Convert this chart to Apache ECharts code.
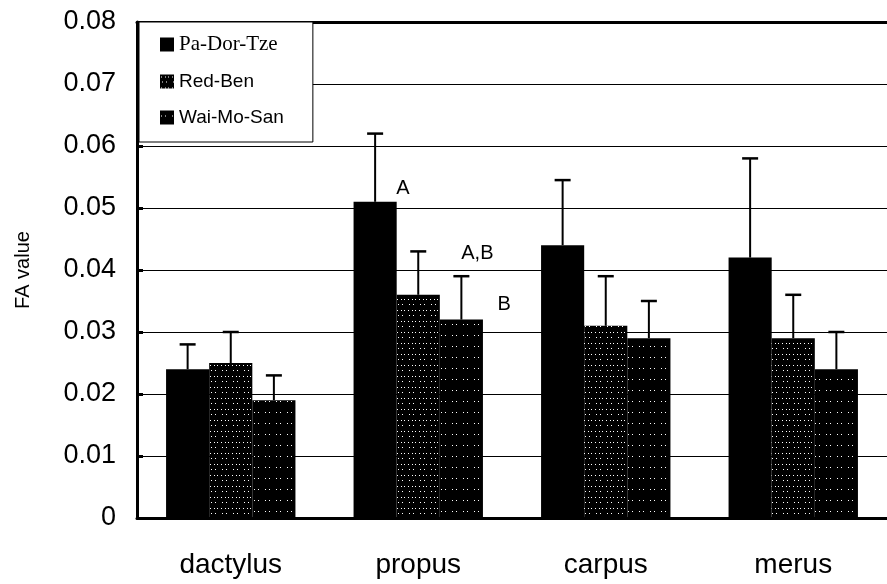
<!DOCTYPE html>
<html>
<head>
<meta charset="utf-8">
<script src="https://cdn.jsdelivr.net/npm/echarts@6/dist/echarts.min.js"></script>
<style>
html,body{margin:0;padding:0;background:#fff;}
#chart{width:887px;height:584px;}
</style>
</head>
<body>
<div id="chart"></div>
<script>
// ---- data ----
const categories = ['dactylus', 'propus', 'carpus', 'merus'];
const seriesNames = ['Pa-Dor-Tze', 'Red-Ben', 'Wai-Mo-San'];
const paDorTze = [0.024, 0.051, 0.044, 0.042];
const redBen = [0.025, 0.036, 0.031, 0.029];
const waiMoSan = [0.019, 0.032, 0.029, 0.024];
const paDorTzeErr = [0.004, 0.011, 0.0105, 0.016];
const redBenErr = [0.005, 0.007, 0.008, 0.007];
const waiMoSanErr = [0.004, 0.007, 0.006, 0.006];
const yMin = 0, yMax = 0.08, yInterval = 0.01;
const annoCategory = ['propus', 'propus', 'propus'];
const annoSeries = [0, 1, 2];
const annoValue = [0.0532, 0.0427, 0.0345];
const annoText = ['A', 'A,B', 'B'];

// ---- styles ----
const annoDx = [21, 43, 36];

function makePattern(w, h, pts) {
  const c = document.createElement('canvas');
  c.width = w; c.height = h;
  const ctx = c.getContext('2d');
  ctx.fillStyle = '#000';
  ctx.fillRect(0, 0, w, h);
  ctx.fillStyle = '#fff';
  pts.forEach(p => ctx.fillRect(p[0], p[1], p[2] || 1, 1));
  return { image: c, repeat: 'repeat' };
}
const patRed = makePattern(11, 11, [[1,2,1],[5,2,1],[8,2,1],[2,7,1],[6,7,1]]);
const patWai = makePattern(11, 11, [[5,5,1],[1,5,1]]);
const colors = ['#000', patRed, patWai];
const valuesArr = [paDorTze, redBen, waiMoSan];
const errArr = [paDorTzeErr, redBenErr, waiMoSanErr];
const BAR_FRAC = 0.23;

const barSeries = seriesNames.map((n, i) => ({
  name: n,
  type: 'bar',
  data: valuesArr[i],
  barWidth: (BAR_FRAC * 100) + '%',
  barGap: '0%',
  itemStyle: { color: colors[i] },
  z: 3
}));

const errData = [];
valuesArr.forEach((vals, s) => vals.forEach((v, c) => errData.push([c, v, errArr[s][c], s])));

const errSeries = {
  type: 'custom',
  name: 'err',
  data: errData,
  z: 5,
  renderItem: function (params, api) {
    const c = api.value(0), v = api.value(1), e = api.value(2), s = api.value(3);
    const band = api.size([1, 0])[0];
    const off = (s - 1) * band * BAR_FRAC;
    const b = api.coord([c, v]);
    const t = api.coord([c, v + e]);
    const x = b[0] + off;
    return {
      type: 'group',
      children: [
        { type: 'line', shape: { x1: x, y1: b[1], x2: x, y2: t[1] }, style: { stroke: '#000', lineWidth: 2 } },
        { type: 'line', shape: { x1: x - 8, y1: t[1], x2: x + 8, y2: t[1] }, style: { stroke: '#000', lineWidth: 2.5 } }
      ]
    };
  }
};

const annoData = annoText.map((t, i) => [categories.indexOf(annoCategory[i]), annoValue[i], annoSeries[i], i]);
const annoSeriesObj = {
  type: 'custom',
  name: 'anno',
  data: annoData,
  z: 6,
  renderItem: function (params, api) {
    const c = api.value(0), v = api.value(1), s = api.value(2), i = api.value(3);
    const band = api.size([1, 0])[0];
    const off = (s - 1) * band * BAR_FRAC;
    const p = api.coord([c, v]);
    return {
      type: 'text',
      style: {
        x: p[0] + off + annoDx[i], y: p[1],
        text: annoText[i],
        fill: '#000',
        font: '20px "Liberation Sans", Arial, sans-serif',
        textAlign: 'left', textVerticalAlign: 'middle'
      }
    };
  }
};

const chart = echarts.init(document.getElementById('chart'), null, { renderer: 'canvas' });
chart.setOption({
  animation: false,
  backgroundColor: '#fff',
  grid: { left: 137, top: 22, width: 756, height: 496, show: false },
  legend: {
    orient: 'vertical',
    left: 139, top: 22,
    itemWidth: 14, itemHeight: 14, itemGap: 17,
    padding: [12, 29, 15, 21],
    backgroundColor: '#fff',
    borderColor: '#000', borderWidth: 1,
    icon: 'rect',
    textStyle: { fontSize: 19, fontFamily: '"Liberation Sans", Arial, sans-serif', color: '#000' },
    data: [
      { name: seriesNames[0], textStyle: { fontFamily: '"Liberation Serif", "Times New Roman", serif', fontSize: 21 } },
      { name: seriesNames[1] },
      { name: seriesNames[2] }
    ]
  },
  xAxis: [{
    type: 'category',
    data: categories,
    axisLine: { lineStyle: { color: '#000', width: 3 } },
    axisTick: { inside: true, length: 6, lineStyle: { color: '#000', width: 1 } },
    axisLabel: { color: '#000', fontSize: 28, fontFamily: '"Liberation Sans", Arial, sans-serif', margin: 33 },
    splitLine: { show: false }
  }, {
    type: 'category',
    data: categories,
    position: 'top',
    axisLine: { show: true, lineStyle: { color: '#000', width: 3 } },
    axisTick: { show: false },
    axisLabel: { show: false },
    splitLine: { show: false }
  }],
  yAxis: {
    type: 'value',
    min: yMin, max: yMax, interval: yInterval,
    name: 'FA value',
    nameLocation: 'middle',
    nameGap: 104,
    nameTextStyle: { color: '#000', fontSize: 20, fontFamily: '"Liberation Sans", Arial, sans-serif' },
    axisLine: { show: true, lineStyle: { color: '#000', width: 3 } },
    axisTick: { show: true, inside: true, length: 6, lineStyle: { color: '#000', width: 3 } },
    axisLabel: { color: '#000', fontSize: 27, fontFamily: '"Liberation Sans", Arial, sans-serif', margin: 21,
      formatter: v => (Math.abs(v) < 1e-9 ? '0' : v.toFixed(2)) },
    splitLine: { show: true, lineStyle: { color: '#000', width: 1 } }
  },
  series: barSeries.concat([errSeries, annoSeriesObj])
});
</script>
</body>
</html>
